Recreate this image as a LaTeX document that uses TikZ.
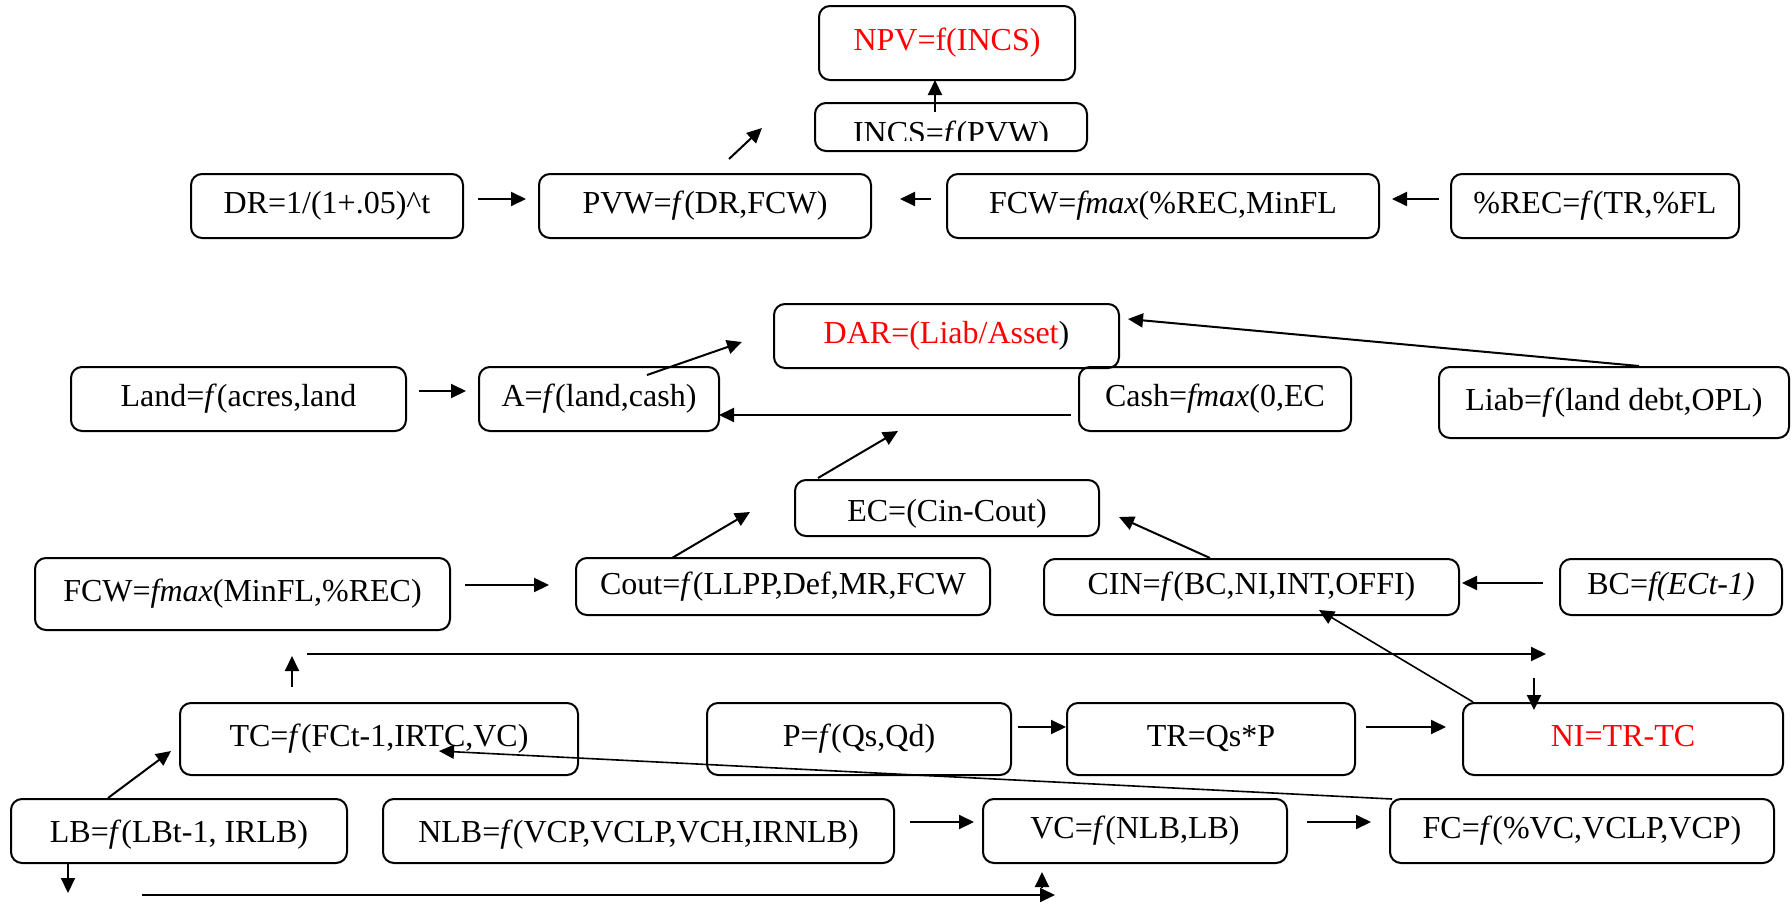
\documentclass[tikz,border=0pt]{standalone}
\usepackage{fontspec}
\setmainfont{Liberation Serif}
\usetikzlibrary{arrows.meta}
\begin{document}
\begin{tikzpicture}[x=1pt,y=-1pt,
  box/.style={draw, line width=2pt, rounded corners=11pt, inner sep=0pt,
    text height=22pt, text depth=7pt, font=\fontsize{32}{38}\selectfont},
  txt/.style={inner sep=0pt, font=\fontsize{32}{38}\selectfont},
  arr/.style={line width=2pt, -{Triangle[length=15pt,width=14pt]}},
  thinarr/.style={line width=1.6pt, -{Triangle[length=15pt,width=14pt]}}]
\fill[white] (0,0) rectangle (1792,908);
\useasboundingbox (0,0) rectangle (1792,908);

% boxes
\node[box, minimum width=256pt, minimum height=74pt, text=red] (npv) at (947,43) {NPV=f(INCS)};
\node[box, minimum width=272pt, minimum height=48pt] (incs) at (951,127) {};
\begin{scope}
  \clip (815,103) rectangle (1087,140);
  \node[txt, anchor=base] (incstext) at (951,143) {INCS=\textit{f}(PVW)};
\end{scope}
\node[box, minimum width=272pt, minimum height=64pt] (dr) at (327,206) {DR=1/(1+.05)\^{}t};
\node[box, minimum width=332pt, minimum height=64pt] (pvw) at (705,206) {PVW=\textit{f}(DR,FCW)};
\node[box, minimum width=432pt, minimum height=64pt] (fcwa) at (1163,206) {FCW=\textit{fmax}(\%REC,MinFL};
\node[box, minimum width=288pt, minimum height=64pt] (rec) at (1595,206) {\%REC=\textit{f}(TR,\%FL};

\node[box, minimum width=345pt, minimum height=64pt] (dar) at (946.5,336) {\textcolor{red}{DAR=(Liab/Asset})};
\node[box, minimum width=335pt, minimum height=64pt] (land) at (238.5,399) {Land=\textit{f}(acres,land};
\node[box, minimum width=240pt, minimum height=64pt] (asset) at (599,399) {A=\textit{f}(land,cash)};
\node[box, minimum width=272pt, minimum height=64pt] (cash) at (1215,399) {Cash=\textit{fmax}(0,EC};
\node[box, minimum width=350pt, minimum height=71pt] (liab) at (1614,402.5) {Liab=\textit{f}(land debt,OPL)};

\node[box, minimum width=304pt, minimum height=56pt] (ec) at (947,508) {\raisebox{-6pt}{EC=(Cin-Cout)}};
\node[box, minimum width=415pt, minimum height=72pt] (fcwb) at (242.5,594) {FCW=\textit{fmax}(MinFL,\%REC)};
\node[box, minimum width=414pt, minimum height=57pt] (cout) at (783,586.5) {Cout=\textit{f}(LLPP,Def,MR,FCW};
\node[box, minimum width=415pt, minimum height=56pt] (cin) at (1251.5,587) {CIN=\textit{f}(BC,NI,INT,OFFI)};
\node[box, minimum width=222pt, minimum height=56pt] (bc) at (1671,587) {BC=\textit{f(ECt-1)}};

\node[box, minimum width=398pt, minimum height=72pt] (tc) at (379,739) {TC=\textit{f}(FCt-1,IRTC,VC)};
\node[box, minimum width=304pt, minimum height=72pt] (p) at (859,739) {P=\textit{f}(Qs,Qd)};
\node[box, minimum width=288pt, minimum height=72pt] (tr) at (1211,739) {TR=Qs*P};
\node[box, minimum width=320pt, minimum height=72pt, text=red] (ni) at (1623,739) {NI=TR-TC};

\node[box, minimum width=336pt, minimum height=64pt] (lb) at (179,831) {\raisebox{-4pt}{LB=\textit{f}(LBt-1, IRLB)}};
\node[box, minimum width=511pt, minimum height=64pt] (nlb) at (638.5,831) {\raisebox{-4pt}{NLB=\textit{f}(VCP,VCLP,VCH,IRNLB)}};
\node[box, minimum width=304pt, minimum height=64pt] (vc) at (1135,831) {VC=\textit{f}(NLB,LB)};
\node[box, minimum width=384pt, minimum height=64pt] (fc) at (1582,831) {FC=\textit{f}(\%VC,VCLP,VCP)};

% connector end points
\coordinate (c1s) at (935,112);   \coordinate (c1e) at (935,80);
\coordinate (c2s) at (729,159);   \coordinate (c2e) at (762,128);
\coordinate (c3s) at (478,199);   \coordinate (c3e) at (526,199);
\coordinate (c4s) at (931,199);   \coordinate (c4e) at (900,199);
\coordinate (c5s) at (1439,199);  \coordinate (c5e) at (1392,199);
\coordinate (c6s) at (419,391);   \coordinate (c6e) at (466,391);
\coordinate (c7s) at (647,375);   \coordinate (c7e) at (742,342);
\coordinate (c8s) at (1071,415);  \coordinate (c8e) at (719,415);
\coordinate (c9s) at (1639,366);  \coordinate (c9e) at (1128,319);
\coordinate (c10s) at (818,478);  \coordinate (c10e) at (898,431);
\coordinate (c11s) at (465,585);  \coordinate (c11e) at (549,585);
\coordinate (c12s) at (672,558);  \coordinate (c12e) at (750,512);
\coordinate (c13s) at (1210,558); \coordinate (c13e) at (1119,517);
\coordinate (c14s) at (1543,583); \coordinate (c14e) at (1462,583);
\coordinate (c15s) at (1473,702); \coordinate (c15e) at (1319,610);
\coordinate (c16s) at (307,654);  \coordinate (c16e) at (1546,654);
\coordinate (c17s) at (292,687);  \coordinate (c17e) at (292,656);
\coordinate (c18s) at (1534,678); \coordinate (c18e) at (1534,710);
\coordinate (c19s) at (1018,727); \coordinate (c19e) at (1066,727);
\coordinate (c20s) at (1366,727); \coordinate (c20e) at (1446,727);
\coordinate (c21s) at (108,798);  \coordinate (c21e) at (171,751);
\coordinate (c22s) at (1392,799); \coordinate (c22e) at (439,751);
\coordinate (c23s) at (68,863);   \coordinate (c23e) at (68,893);
\coordinate (c24s) at (142,895);  \coordinate (c24e) at (1055,895);
\coordinate (c25s) at (1042,888); \coordinate (c25e) at (1042,872);
\coordinate (c26s) at (910,822);  \coordinate (c26e) at (974,822);
\coordinate (c27s) at (1307,822); \coordinate (c27e) at (1371,822);

% connectors
\draw[arr] (c1s) -- (c1e);
\draw[arr] (c2s) -- (c2e);
\draw[arr] (c3s) -- (c3e);
\draw[arr] (c4s) -- (c4e);
\draw[arr] (c5s) -- (c5e);
\draw[arr] (c6s) -- (c6e);
\draw[arr] (c7s) -- (c7e);
\draw[arr] (c8s) -- (c8e);
\draw[arr] (c9s) -- (c9e);
\draw[arr] (c10s) -- (c10e);
\draw[arr] (c11s) -- (c11e);
\draw[arr] (c12s) -- (c12e);
\draw[arr] (c13s) -- (c13e);
\draw[arr] (c14s) -- (c14e);
\draw[thinarr] (c15s) -- (c15e);
\draw[arr] (c16s) -- (c16e);
\draw[arr] (c17s) -- (c17e);
\draw[arr] (c18s) -- (c18e);
\draw[arr] (c19s) -- (c19e);
\draw[arr] (c20s) -- (c20e);
\draw[arr] (c21s) -- (c21e);
\draw[thinarr] (c22s) -- (c22e);
\draw[arr] (c23s) -- (c23e);
\draw[arr] (c24s) -- (c24e);
\draw[arr] (c25s) -- (c25e);
\draw[arr] (c26s) -- (c26e);
\draw[arr] (c27s) -- (c27e);
\end{tikzpicture}
\end{document}
